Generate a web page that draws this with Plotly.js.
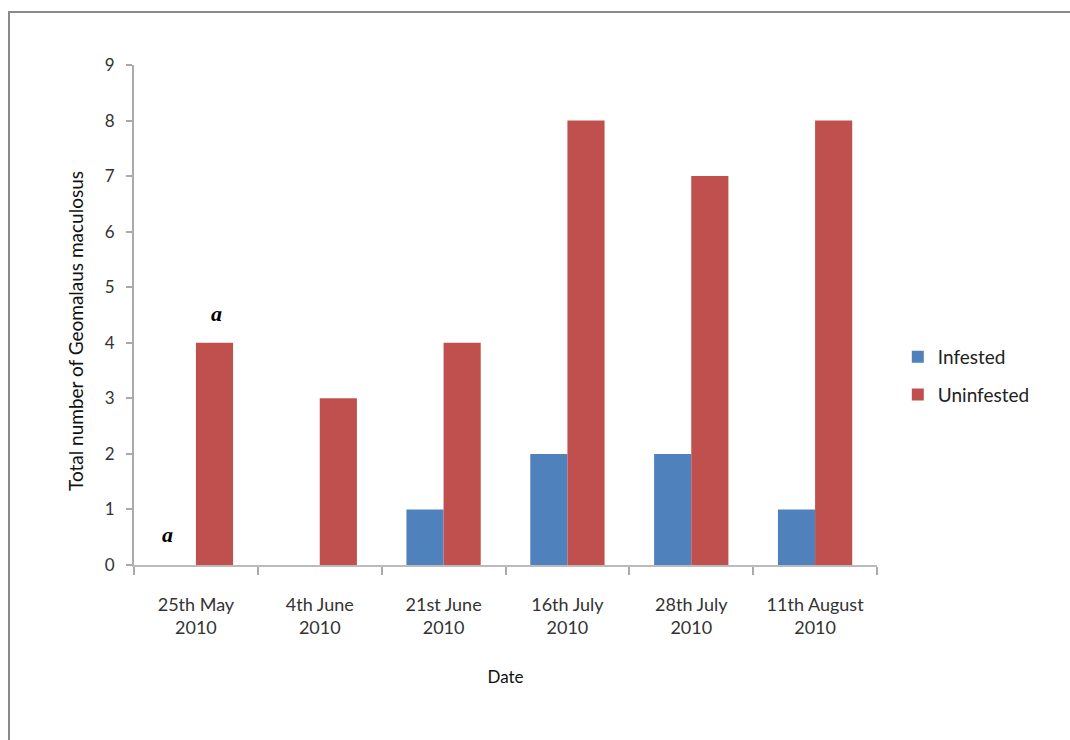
<!DOCTYPE html>
<html>
<head>
<meta charset="utf-8">
<script src="https://cdn.plot.ly/plotly-3.0.1.min.js"></script>
<style>
  html, body { margin: 0; padding: 0; background: #fff; }
  #frame { position: absolute; left: 8px; top: 11px; width: 1062px; height: 729px;
           border-top: 2px solid #8a8a8a; border-left: 2px solid #8a8a8a; box-sizing: border-box; }
  #chart { position: absolute; left: 0; top: 0; width: 1070px; height: 740px; }
</style>
</head>
<body>
<div id="frame"></div>
<div id="chart"></div>
<script>
const categories = ["25th May<br>2010", "4th June<br>2010", "21st June<br>2010", "16th July<br>2010", "28th July<br>2010", "11th August<br>2010"];
const infested = [0, 0, 1, 2, 2, 1];
const uninfested = [4, 3, 4, 8, 7, 8];
const yTicks = [0, 1, 2, 3, 4, 5, 6, 7, 8, 9];
const yTitle = 'Total number of Geomalaus maculosus';
const xTitle = 'Date';

const traces = [
  { type: 'bar', name: 'Infested', x: categories, y: infested,
    marker: { color: '#4F81BD' }, legendgroup: 'g1' },
  { type: 'bar', name: 'Uninfested', x: categories, y: uninfested,
    marker: { color: '#C0504D' }, legendgroup: 'g2' }
];

const layout = {
  width: 1070, height: 740,
  margin: { l: 134, r: 193, t: 65, b: 175 },
  paper_bgcolor: 'rgba(0,0,0,0)', plot_bgcolor: 'rgba(0,0,0,0)',
  font: { family: 'Lato, "Open Sans", sans-serif', size: 16, color: '#222' },
  barmode: 'group', bargap: 0.4, bargroupgap: 0,
  showlegend: true,
  legend: { x: 1.028, y: 0.378, xanchor: 'left', yanchor: 'middle',
            font: { size: 19, color: '#222' }, tracegroupgap: 10, traceorder: 'grouped' },
  xaxis: {
    type: 'category', showgrid: false, zeroline: false,
    showline: true, linecolor: '#bbbbbb', linewidth: 2,
    ticks: 'outside', ticklen: 8, tickcolor: '#aaaaaa', tickwidth: 2,
    tickson: 'boundaries', ticklabelstandoff: 22,
    tickfont: { size: 18, color: '#333' },
    title: { text: xTitle, font: { size: 17, color: '#111' }, standoff: 34 },
    fixedrange: true
  },
  yaxis: {
    range: [0, 9], tickvals: yTicks, showgrid: false, zeroline: false,
    showline: true, linecolor: '#aaaaaa', linewidth: 2,
    ticks: 'outside', ticklen: 6, tickcolor: '#aaaaaa', tickwidth: 2,
    ticklabelstandoff: 8,
    tickfont: { size: 17, color: '#333' },
    fixedrange: true
  },
  annotations: [
    { x: -0.0794, y: 0.468, xref: 'paper', yref: 'paper', text: yTitle, textangle: -90,
      showarrow: false, xanchor: 'center', yanchor: 'middle',
      font: { size: 19, color: '#111' } },
    { x: categories[0], y: 0.55, xref: 'x', yref: 'y', text: '<b><i>a</i></b>', showarrow: false,
      xshift: -28, font: { family: '"Liberation Serif", "DejaVu Serif", serif', size: 22, color: '#000' } },
    { x: categories[0], y: 4.53, xref: 'x', yref: 'y', text: '<b><i>a</i></b>', showarrow: false,
      xshift: 21, font: { family: '"Liberation Serif", "DejaVu Serif", serif', size: 22, color: '#000' } }
  ]
};

Plotly.newPlot('chart', traces, layout, { displayModeBar: false, staticPlot: true });
</script>
</body>
</html>
